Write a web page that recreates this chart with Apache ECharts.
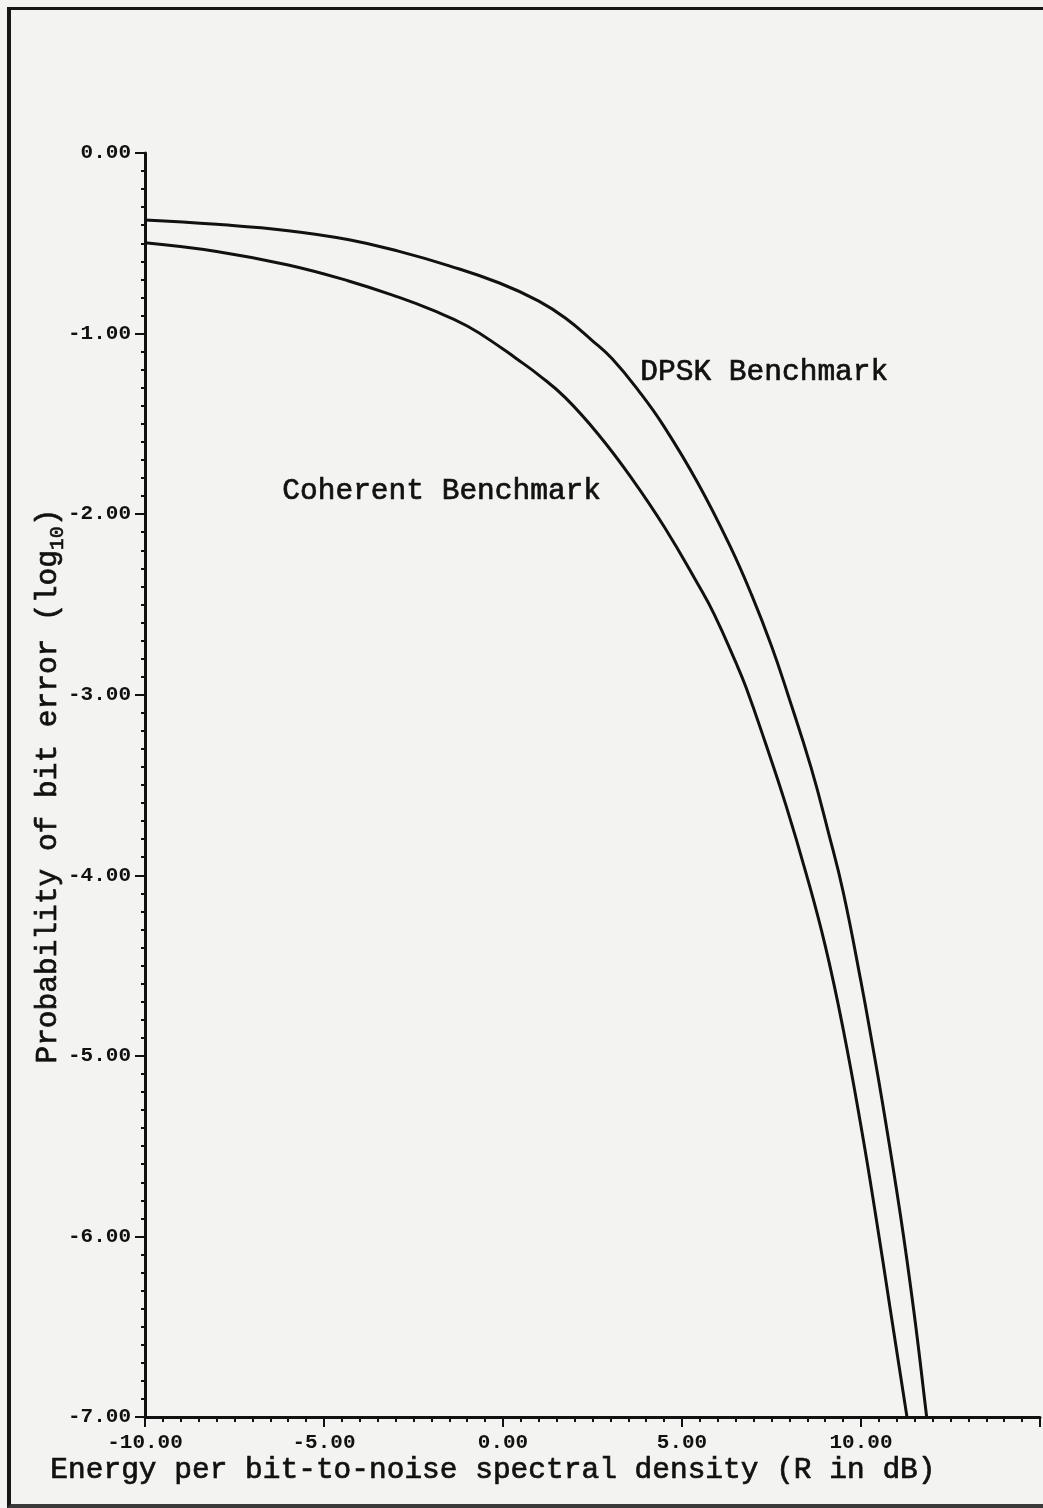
<!DOCTYPE html>
<html>
<head>
<meta charset="utf-8">
<title>Probability of bit error</title>
<script src="https://cdn.jsdelivr.net/npm/echarts@6/dist/echarts.min.js"></script>
<style>
  html, body { margin: 0; padding: 0; background: #f3f3f1; }
  #main { position: absolute; left: 0; top: 0; width: 1043px; height: 1508px; }
  /* scanned page edge */
  #frame { position: absolute; left: 7px; top: 7px; width: 1040px; height: 1494px;
           border-left: 4px solid #161616; border-top: 3px solid #161616; border-bottom: 4px solid #3a3a3a; }
</style>
</head>
<body>
<div id="main"></div>
<div id="frame"></div>
<script>
// Eb/N0 in dB (x) and log10 of bit error probability (y)
var coherentX = [-10, -8, -6, -4.29, -2.9, -2.0, -1.0, 0.0, 0.35, 1.0, 1.74, 2.67, 3.59, 4.52, 5.45, 5.9, 6.5, 6.79, 7.31, 7.9, 8.46, 9.0, 9.5, 10.0, 10.4, 10.83, 11.30, 11.40];
var coherentY = [-0.497, -0.545, -0.62, -0.71, -0.80, -0.868, -0.958, -1.085, -1.135, -1.23, -1.355, -1.56, -1.80, -2.075, -2.39, -2.555, -2.82, -2.96, -3.255, -3.61, -3.985, -4.39, -4.85, -5.39, -5.87, -6.42, -7.02, -7.15];

var dpskX = [-10, -8, -6, -4.3, -2.9, -1.5, -0.1, 1.0, 1.75, 2.5, 3.05, 3.8, 4.5, 5.45, 6.35, 6.95, 7.5, 7.96, 8.6, 9.1, 9.5, 10.0, 10.32, 10.6, 11.1, 11.48, 11.81, 11.9];
var dpskY = [-0.371, -0.395, -0.43, -0.48, -0.545, -0.625, -0.72, -0.82, -0.915, -1.04, -1.14, -1.32, -1.515, -1.83, -2.18, -2.45, -2.73, -3.0, -3.40, -3.77, -4.09, -4.59, -4.94, -5.26, -5.88, -6.42, -6.96, -7.12];

var xTicks = { min: -10, max: 15, interval: 5 };
var yTicks = { min: -7, max: 0, interval: 1 };

var xTitle = 'Energy per bit-to-noise spectral density (R in dB)';
var yTitle = '{n|Probability of bit error (log}{s|10}{n|)}';
var labelDpsk = 'DPSK Benchmark';
var labelCoherent = 'Coherent Benchmark';

function pairs(xs, ys) {
    var out = [];
    for (var i = 0; i < xs.length; i++) {
        out.push([xs[i], ys[i]]);
    }
    return out;
}

var ink = '#111111';
var tickFont = { fontFamily: 'Liberation Mono', fontWeight: 'bold', fontSize: 21, color: ink };
var textFont = 'Liberation Mono';

var chart = echarts.init(document.getElementById('main'), null, { renderer: 'canvas' });

var option = {
    backgroundColor: 'transparent',
    animation: false,
    grid: { left: 145, right: 0, top: 153, bottom: 91, containLabel: false },
    xAxis: {
        type: 'value',
        min: xTicks.min, max: xTicks.max, interval: xTicks.interval,
        axisLine: { onZero: false, lineStyle: { color: ink, width: 3 } },
        axisTick: { inside: false, length: 10, lineStyle: { color: ink, width: 2 } },
        minorTick: { show: true, splitNumber: 10, length: 5, lineStyle: { color: ink, width: 2 } },
        splitLine: { show: false },
        axisLabel: Object.assign({
            margin: 15,
            formatter: function(v) { return v >= xTicks.max ? '' : v.toFixed(2); }
        }, tickFont)
    },
    yAxis: {
        type: 'value',
        min: yTicks.min, max: yTicks.max, interval: yTicks.interval,
        axisLine: { onZero: false, lineStyle: { color: ink, width: 3 } },
        axisTick: { inside: false, length: 10, lineStyle: { color: ink, width: 2 } },
        minorTick: { show: true, splitNumber: 10, length: 4, lineStyle: { color: ink, width: 2 } },
        splitLine: { show: false },
        axisLabel: Object.assign({
            margin: 14,
            formatter: function(v) { return v.toFixed(2); }
        }, tickFont)
    },
    series: [
        {
            name: 'Coherent Benchmark',
            type: 'line',
            data: pairs(coherentX, coherentY),
            smooth: 0.45,
            showSymbol: false,
            clip: true,
            lineStyle: { color: ink, width: 3 }
        },
        {
            name: 'DPSK Benchmark',
            type: 'line',
            data: pairs(dpskX, dpskY),
            smooth: 0.45,
            showSymbol: false,
            clip: true,
            lineStyle: { color: ink, width: 3 }
        }
    ],
    graphic: [
        {
            type: 'text', left: 50, top: 1455,
            style: { text: xTitle, fontFamily: textFont, fontSize: 29.5, fill: ink, stroke: ink, lineWidth: 0.7 }
        },
        {
            type: 'text', x: 48, y: 786, rotation: Math.PI / 2,
            style: {
                text: yTitle, align: 'center', verticalAlign: 'middle',
                fill: ink,
                rich: {
                    n: { fontFamily: textFont, fontSize: 29.5, lineHeight: 40, verticalAlign: 'middle',
                         fill: ink, stroke: ink, lineWidth: 0.7 },
                    s: { fontFamily: textFont, fontSize: 20, lineHeight: 20, verticalAlign: 'bottom',
                         fill: ink, stroke: ink, lineWidth: 0.6 }
                }
            }
        },
        {
            type: 'text', left: 640, top: 357,
            style: { text: labelDpsk, fontFamily: textFont, fontSize: 29.5, fill: ink, stroke: ink, lineWidth: 0.7 }
        },
        {
            type: 'text', left: 282, top: 476,
            style: { text: labelCoherent, fontFamily: textFont, fontSize: 29.5, fill: ink, stroke: ink, lineWidth: 0.7 }
        }
    ]
};

chart.setOption(option);
</script>
</body>
</html>
